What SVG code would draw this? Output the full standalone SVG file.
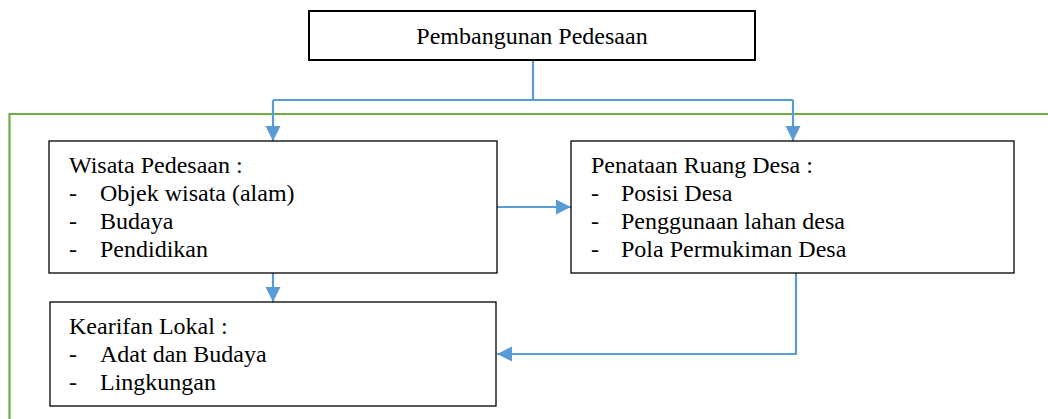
<svg xmlns="http://www.w3.org/2000/svg" width="1048" height="419" viewBox="0 0 1048 419">
<style>
.box{fill:#fff;stroke:#000;stroke-width:1.3}
.t{font-family:'Liberation Serif','Times New Roman',Times,serif;font-size:24px;fill:#000}
.c{fill:none;stroke:#5B9BD5;stroke-width:2.2}
.g{fill:none;stroke:#70AD47;stroke-width:2.2}
</style>
<defs>
<marker id="ah" markerUnits="userSpaceOnUse" markerWidth="16" markerHeight="16" refX="15" refY="7.5" orient="auto">
<path d="M0,0 L15,7.5 L0,15 z" fill="#5B9BD5"/>
</marker>
</defs>
<rect width="1048" height="419" fill="#fff"/>
<path class="g" d="M1048,114 H9.5 V419"/>
<g id="connectors">
<path class="c" d="M533,60 V100"/>
<path class="c" d="M273,100 H793"/>
<path class="c" d="M273,100 V141" marker-end="url(#ah)"/>
<path class="c" d="M793,100 V141" marker-end="url(#ah)"/>
<path class="c" d="M497,207 H571" marker-end="url(#ah)"/>
<path class="c" d="M273,273 V302" marker-end="url(#ah)"/>
<path class="c" d="M796,273 V354 H497" marker-end="url(#ah)"/>
</g>
<g id="pembangunan">
<rect class="box" x="309" y="11" width="446" height="49" style="stroke-width:2"/>
<text class="t" font-family="Liberation Serif, serif" x="532" y="44" text-anchor="middle">Pembangunan Pedesaan</text>
</g>
<g id="wisata">
<rect class="box" x="49" y="141" width="448" height="132"/>
<text class="t" x="69" y="173">Wisata Pedesaan :</text>
<text class="t" x="69" y="201">-</text><text class="t" x="100" y="201">Objek wisata (alam)</text>
<text class="t" x="69" y="229">-</text><text class="t" x="100" y="229">Budaya</text>
<text class="t" x="69" y="257">-</text><text class="t" x="100" y="257">Pendidikan</text>
</g>
<g id="penataan">
<rect class="box" x="571" y="141" width="443" height="132"/>
<text class="t" x="591" y="173">Penataan Ruang Desa :</text>
<text class="t" x="591" y="201">-</text><text class="t" x="621" y="201">Posisi Desa</text>
<text class="t" x="591" y="229">-</text><text class="t" x="621" y="229">Penggunaan lahan desa</text>
<text class="t" x="591" y="257">-</text><text class="t" x="621" y="257">Pola Permukiman Desa</text>
</g>
<g id="kearifan">
<rect class="box" x="50" y="302" width="446" height="104"/>
<text class="t" x="69" y="334">Kearifan Lokal :</text>
<text class="t" x="69" y="362">-</text><text class="t" x="100" y="362">Adat dan Budaya</text>
<text class="t" x="69" y="390">-</text><text class="t" x="100" y="390">Lingkungan</text>
</g>
</svg>
